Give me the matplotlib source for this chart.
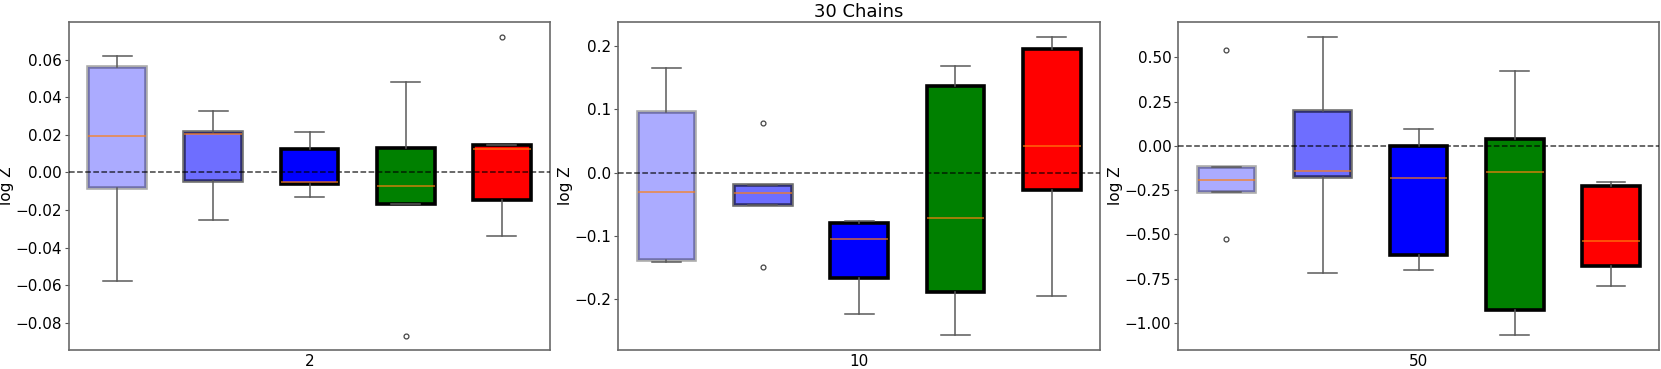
import matplotlib
matplotlib.use("Agg")
import matplotlib.pyplot as plt

# ---- data ----
chain_labels = ["2", "10", "50"]
title = "30 Chains"

# panel "2"
q1_a = [-0.0085, -0.0046, -0.0059, -0.0167, -0.0146]
med_a = [0.0193, 0.0204, -0.0050, -0.0071, 0.0124]
q3_a = [0.0563, 0.0213, 0.0122, 0.0130, 0.0147]
lo_a = [-0.0577, -0.0252, -0.0131, -0.0167, -0.0339]
hi_a = [0.0621, 0.0327, 0.0215, 0.0481, 0.0147]
fl_a = [[], [], [], [-0.0868], [0.0722]]

# panel "10"
q1_b = [-0.1379, -0.0505, -0.1668, -0.1879, -0.0268]
med_b = [-0.0305, -0.0321, -0.1053, -0.0721, 0.0416]
q3_b = [0.0953, -0.0200, -0.0789, 0.1368, 0.1947]
lo_b = [-0.1405, -0.0505, -0.2237, -0.2568, -0.1953]
hi_b = [0.1647, -0.0200, -0.0758, 0.1689, 0.2137]
fl_b = [[], [0.0784, -0.1484], [], [], []]

# panel "50"
q1_c = [-0.2600, -0.1733, -0.6158, -0.9284, -0.6760]
med_c = [-0.1940, -0.1430, -0.1827, -0.1469, -0.5367]
q3_c = [-0.1167, 0.1977, 0.0000, 0.0414, -0.2241]
lo_c = [-0.2600, -0.7194, -0.7006, -1.0697, -0.7890]
hi_c = [-0.1167, 0.6140, 0.0942, 0.4237, -0.2015]
fl_c = [[0.5386, -0.5236], [], [], [], []]

ylims = [(-0.0944, 0.0798), (-0.2800, 0.2374), (-1.1525, 0.6974)]

box_colors = ["blue", "blue", "blue", "green", "red"]
box_alphas = [0.33, 0.57, 1.0, 1.0, 1.0]

panels = [
    (q1_a, med_a, q3_a, lo_a, hi_a, fl_a),
    (q1_b, med_b, q3_b, lo_b, hi_b, fl_b),
    (q1_c, med_c, q3_c, lo_c, hi_c, fl_c),
]

W, H = 1661, 369
fig = plt.figure(figsize=(W / 100, H / 100), dpi=100)
plt.rcParams["font.family"] = ["DejaVu Sans"]

ax_px = [(69.0, 550.0), (618.3, 1100.0), (1178.3, 1659.0)]
top_px, bot_px = 22.3, 350.0

for i, (q1, med, q3, lo, hi, fl) in enumerate(panels):
    l, r = ax_px[i]
    ax = fig.add_axes([l / W, 1 - bot_px / H, (r - l) / W, (bot_px - top_px) / H])
    stats = []
    for j in range(len(q1)):
        stats.append(dict(q1=q1[j], med=med[j], q3=q3[j], whislo=lo[j],
                          whishi=hi[j], fliers=fl[j]))
    bp = ax.bxp(stats, positions=range(1, len(q1) + 1), widths=0.6,
                patch_artist=True, showfliers=True,
                whiskerprops=dict(color="#5a5a5a", linewidth=1.1),
                capprops=dict(color="#5a5a5a", linewidth=1.1),
                medianprops=dict(color="#ff7f0e", linewidth=1.1, alpha=0.8),
                flierprops=dict(marker="o", markersize=3.5,
                                markerfacecolor="none",
                                markeredgecolor="#444444",
                                markeredgewidth=0.9))
    for patch, c, a in zip(bp["boxes"], box_colors, box_alphas):
        patch.set_facecolor(c)
        patch.set_edgecolor("black")
        patch.set_linewidth(2.6)
        patch.set_alpha(a)
    ax.axhline(0, color="black", linestyle="--", linewidth=1.1, alpha=0.75,
               zorder=5)
    ax.set_xlim(0.5, len(q1) + 0.5)
    ax.set_ylim(*ylims[i])
    ax.set_xticks([3])
    ax.set_xticklabels([chain_labels[i]], fontsize=11)
    ax.tick_params(axis="x", length=0, pad=3)
    ax.tick_params(axis="y", labelsize=11, color="#555555", length=3, pad=2)
    ax.set_ylabel("log Z", fontsize=11, labelpad=1.2)
    for s in ax.spines.values():
        s.set_color("#6a6a6a")
        s.set_linewidth(1.2)
    if i == 1:
        ax.set_title(title, fontsize=13, pad=4)

fig.savefig("out.png", dpi=100)
